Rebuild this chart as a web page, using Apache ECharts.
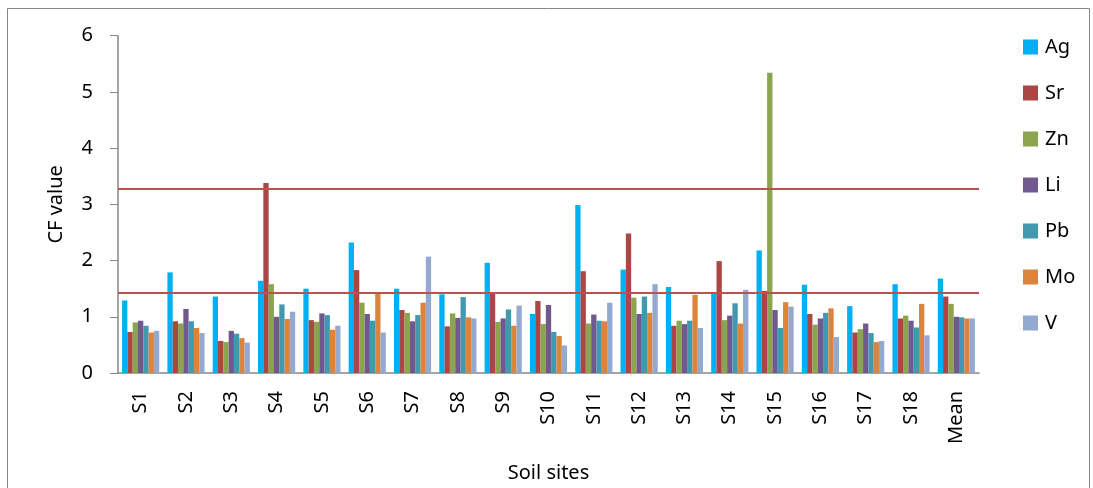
<!DOCTYPE html>
<html>
<head>
<meta charset="utf-8">
<script src="https://cdn.jsdelivr.net/npm/echarts@6/dist/echarts.min.js"></script>
<style>
    html, body { margin: 0; padding: 0; background: #fff; }
    #chart { width: 1093px; height: 488px; }
</style>
</head>
<body>
<div id="chart"></div>
<script>
    // soil sites on the x axis
    var sites = ['S1', 'S2', 'S3', 'S4', 'S5', 'S6', 'S7', 'S8', 'S9', 'S10',
                 'S11', 'S12', 'S13', 'S14', 'S15', 'S16', 'S17', 'S18', 'Mean']

    // CF values per element
    var ag = [1.29, 1.79, 1.36, 1.64, 1.50, 2.32, 1.50, 1.40, 1.96, 1.05, 2.99, 1.84, 1.53, 1.44, 2.18, 1.57, 1.19, 1.58, 1.68]
    var sr = [0.73, 0.92, 0.57, 3.38, 0.94, 1.83, 1.12, 0.83, 1.43, 1.28, 1.81, 2.48, 0.84, 1.99, 1.46, 1.05, 0.72, 0.97, 1.36]
    var zn = [0.90, 0.88, 0.55, 1.58, 0.91, 1.25, 1.07, 1.06, 0.91, 0.87, 0.88, 1.34, 0.93, 0.94, 5.34, 0.86, 0.78, 1.02, 1.23]
    var li = [0.93, 1.14, 0.75, 1.00, 1.06, 1.05, 0.92, 0.98, 0.97, 1.21, 1.04, 1.05, 0.87, 1.02, 1.12, 0.97, 0.88, 0.93, 1.00]
    var pb = [0.84, 0.92, 0.70, 1.22, 1.03, 0.93, 1.03, 1.35, 1.13, 0.73, 0.93, 1.36, 0.93, 1.24, 0.80, 1.07, 0.71, 0.81, 0.99]
    var mo = [0.72, 0.80, 0.62, 0.96, 0.77, 1.42, 1.25, 0.99, 0.84, 0.66, 0.92, 1.07, 1.39, 0.88, 1.26, 1.15, 0.55, 1.23, 0.97]
    var v  = [0.75, 0.71, 0.54, 1.09, 0.84, 0.72, 2.07, 0.97, 1.20, 0.49, 1.25, 1.58, 0.80, 1.48, 1.18, 0.64, 0.57, 0.67, 0.97]

    var yTicks = [0, 1, 2, 3, 4, 5, 6]
    // horizontal reference lines
    var refLines = [3.27, 1.42]

    var elements = ['Ag', 'Sr', 'Zn', 'Li', 'Pb', 'Mo', 'V']
    var values = [ag, sr, zn, li, pb, mo, v]
    var colors = ['#00B0F0', '#AA4643', '#89A54E', '#71588F', '#4198AF', '#DB843D', '#93A9CF']

    var font = 'Noto Sans'

    var series = elements.map(function (name, i) {
        var s = {
            name: name,
            type: 'bar',
            data: values[i],
            barGap: '0%',
            barCategoryGap: '18%',
            itemStyle: {color: colors[i]}
        }
        if (i === 0) {
            s.markLine = {
                silent: true,
                symbol: 'none',
                label: {show: false},
                lineStyle: {color: '#C0504D', width: 2, type: 'solid'},
                data: refLines.map(function (y) { return {yAxis: y} })
            }
        }
        return s
    })

    var chart = echarts.init(document.getElementById('chart'))
    chart.setOption({
        animation: false,
        textStyle: {fontFamily: font},
        graphic: [{
            type: 'rect',
            shape: {x: 7.5, y: 8.5, width: 1082, height: 500},
            style: {fill: 'none', stroke: '#868686', lineWidth: 1}
        }],
        legend: {
            orient: 'vertical',
            left: 1023,
            top: 37,
            padding: 0,
            itemWidth: 15,
            itemHeight: 15,
            itemGap: 26,
            icon: 'rect',
            textStyle: {fontSize: 20, color: '#000', fontFamily: font, lineHeight: 20, padding: [0, 0, 0, 2]},
            data: elements
        },
        grid: {left: 118, right: 114, top: 35.7, bottom: 114.5},
        xAxis: {
            type: 'category',
            data: sites,
            name: 'Soil sites',
            nameLocation: 'middle',
            nameGap: 90,
            nameTextStyle: {fontSize: 20, color: '#000', fontFamily: font},
            axisLine: {lineStyle: {color: '#868686', width: 1.5}},
            axisTick: {show: false},
            axisLabel: {rotate: 90, fontSize: 20, color: '#000', margin: 18, fontFamily: font}
        },
        yAxis: {
            type: 'value',
            min: yTicks[0],
            max: yTicks[yTicks.length - 1],
            interval: 1,
            name: 'CF value',
            nameLocation: 'middle',
            nameGap: 52,
            nameTextStyle: {fontSize: 20, color: '#000', fontFamily: font},
            splitLine: {show: false},
            axisLine: {show: true, lineStyle: {color: '#868686', width: 1.5}},
            axisTick: {show: true, length: 8, lineStyle: {color: '#868686'}},
            axisLabel: {fontSize: 20, color: '#000', margin: 25, fontFamily: font}
        },
        series: series
    })
</script>
</body>
</html>
